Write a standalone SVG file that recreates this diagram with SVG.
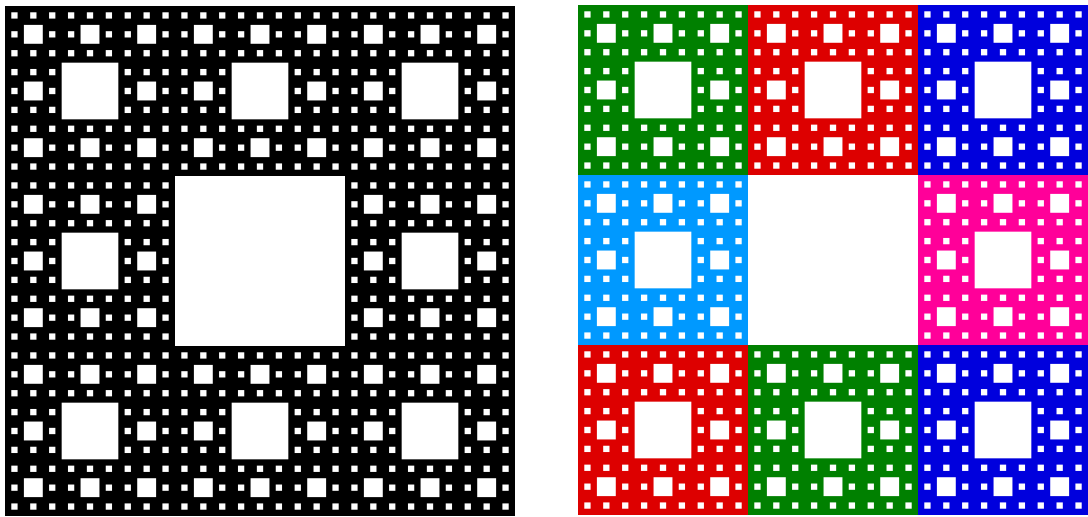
<svg xmlns="http://www.w3.org/2000/svg" xmlns:xlink="http://www.w3.org/1999/xlink" width="1088" height="517" viewBox="0 0 1088 517">
  <style>
    .hole { fill: #ffffff; }
    .black { fill: #000000; }
    .green { fill: #008000; }
    .red { fill: #dd0000; }
    .blue { fill: #0000dd; }
    .sky { fill: #0099ff; }
    .pink { fill: #ff0099; }
  </style>
  <defs>
    <g id="g1"><rect class="hole" x="1" y="1" width="1" height="1"/></g>
    <g id="g2">
      <rect class="hole" x="3" y="3" width="3" height="3"/>
      <use href="#g1" x="0" y="0"/><use href="#g1" x="3" y="0"/><use href="#g1" x="6" y="0"/>
      <use href="#g1" x="0" y="3"/><use href="#g1" x="6" y="3"/>
      <use href="#g1" x="0" y="6"/><use href="#g1" x="3" y="6"/><use href="#g1" x="6" y="6"/>
    </g>
    <g id="g3">
      <rect class="hole" x="9" y="9" width="9" height="9"/>
      <use href="#g2" x="0" y="0"/><use href="#g2" x="9" y="0"/><use href="#g2" x="18" y="0"/>
      <use href="#g2" x="0" y="9"/><use href="#g2" x="18" y="9"/>
      <use href="#g2" x="0" y="18"/><use href="#g2" x="9" y="18"/><use href="#g2" x="18" y="18"/>
    </g>
    <g id="g4">
      <rect class="hole" x="27" y="27" width="27" height="27"/>
      <use href="#g3" x="0" y="0"/><use href="#g3" x="27" y="0"/><use href="#g3" x="54" y="0"/>
      <use href="#g3" x="0" y="27"/><use href="#g3" x="54" y="27"/>
      <use href="#g3" x="0" y="54"/><use href="#g3" x="27" y="54"/><use href="#g3" x="54" y="54"/>
    </g>
  </defs>
  <rect x="0" y="0" width="1088" height="517" fill="#ffffff"/>
  <g id="carpet-black" transform="translate(5,6) scale(6.2963)">
    <rect class="black" x="0" y="0" width="81" height="81"/>
    <use href="#g4"/>
  </g>
  <g id="carpet-colour" transform="translate(578,5) scale(6.2963)">
    <rect class="green" x="0" y="0" width="27" height="27"/>
    <rect class="red" x="27" y="0" width="27" height="27"/>
    <rect class="blue" x="54" y="0" width="27" height="27"/>
    <rect class="sky" x="0" y="27" width="27" height="27"/>
    <rect class="pink" x="54" y="27" width="27" height="27"/>
    <rect class="red" x="0" y="54" width="27" height="27"/>
    <rect class="green" x="27" y="54" width="27" height="27"/>
    <rect class="blue" x="54" y="54" width="27" height="27"/>
    <use href="#g4"/>
  </g>
</svg>
